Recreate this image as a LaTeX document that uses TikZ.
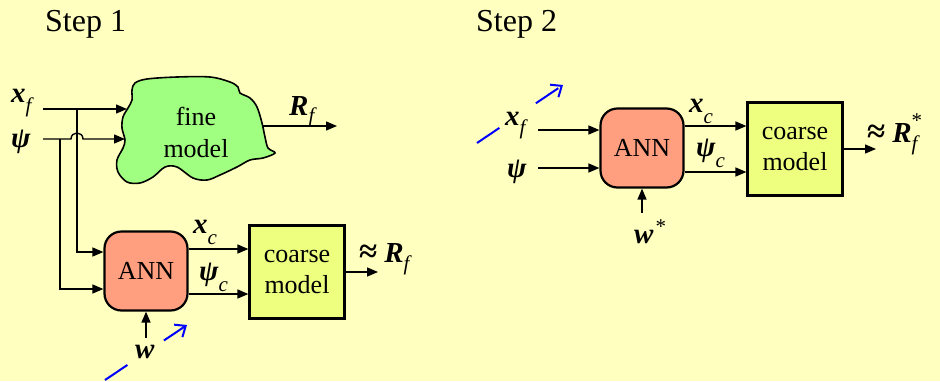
\documentclass[tikz,border=0pt]{standalone}
\usepackage{fontspec}
\setmainfont{Liberation Serif}
\usetikzlibrary{arrows.meta}
\definecolor{bgc}{HTML}{FFFFC0}
\definecolor{fineg}{HTML}{A0FF80}
\definecolor{annc}{HTML}{FF9F80}
\definecolor{coarsec}{HTML}{EEFF80}
\newcommand{\mv}[1]{{\fontsize{29}{29}\selectfont\bfseries\itshape #1}}
\newcommand{\lsub}[2][11pt]{\raisebox{-#1}{\fontsize{21}{21}\selectfont\itshape #2}}
\newcommand{\lsup}[2][10pt]{\raisebox{#1}{\fontsize{21}{21}\selectfont #2}}
\newcommand{\apx}{{\fontsize{33}{33}\selectfont\bfseries ≈}\hspace{7pt}}
\begin{document}
\begin{tikzpicture}[x=1pt,y=-1pt,
  conn/.style={line width=1.4pt,-{Triangle[length=11pt,width=9pt]}},
  annbox/.style={draw,line width=2.2pt,fill=annc,rounded corners=17pt,minimum width=83pt,minimum height=79pt,inner sep=0pt,font=\fontsize{26}{26}\selectfont},
  coarsebox/.style={draw,line width=2.2pt,fill=coarsec,minimum width=95pt,minimum height=93pt,inner sep=0pt,align=center,font=\fontsize{26}{31}\selectfont},
  lbl/.style={anchor=base west,inner sep=0pt},
  steptxt/.style={anchor=base west,inner sep=0pt,font=\fontsize{32}{32}\selectfont},
  bluearrow/.style={draw=blue,line width=2pt,dash pattern=on 27pt off 44pt,-{Straight Barb[length=9pt,width=15pt]}}
]
\fill[bgc] (0,0) rectangle (940,381);
\useasboundingbox (0,0) rectangle (940,381);

% ---------- titles
\node[steptxt] (s1) at (45,31) {Step 1};
\node[steptxt] (s2) at (476,31) {Step 2};

% ---------- Step 1
\draw[line width=1.6pt,fill=fineg] plot[smooth cycle,tension=0.55] coordinates {
 (135,83) (147,79) (177,77) (210,77) (230,82) (238,87) (240,93) (250,98)
 (257,107) (262,123) (265,137) (268,148) (275,153) (263,158) (250,160)
 (237,167) (220,175) (207,180) (193,178) (177,167) (165,167) (153,177)
 (140,183) (127,182) (118,172) (117,160) (123,148) (125,140) (122,128)
 (123,117) (128,108) (132,100) (132,90)};
\node[align=center,inner sep=0pt,font=\fontsize{26}{32}\selectfont] (fine) at (196,132) {fine\\model};

\node[annbox] (ann1) at (146,271) {ANN};
\node[coarsebox] (crs1) at (297,272) {coarse\\model};

\coordinate (xfA) at (43,109);
\coordinate (blobA) at (127,109);
\coordinate (psA) at (43,139);
\coordinate (blobB) at (125,139);
\coordinate (jA) at (77,109);
\coordinate (jB) at (60,139);
\coordinate (hopL) at (71,139);
\coordinate (hopR) at (83,139);
\coordinate (RfA) at (263,126);
\coordinate (RfB) at (337,126);
\coordinate (w1) at (146,338);
\coordinate (o1) at (378,272);
\coordinate (a1x) at ([yshift=22pt]ann1.east);
\coordinate (a1p) at ([yshift=-23pt]ann1.east);
\coordinate (bl1s) at (105,380);
\coordinate (bl1e) at (187,325);

\draw[conn] (xfA) -- (blobA);
\draw[conn] (psA) -- (hopL) .. controls (71,131) and (83,131) .. (hopR) -- (blobB);
\draw[conn] (jA) |- ([yshift=19pt]ann1.west);
\draw[conn] (jB) |- ([yshift=-18pt]ann1.west);
\draw[conn] (RfA) -- (RfB);
\draw[conn] (a1x) -- (a1x -| crs1.west);
\draw[conn] (a1p) -- (a1p -| crs1.west);
\draw[conn] (crs1.east) -- (o1);
\draw[conn] (w1) -- (ann1.south);
\draw[bluearrow] (bl1s) -- (bl1e);

\node[lbl] (lxf1) at (11,102) {\mv{x}\lsub[10pt]{f}};
\node[lbl] (lps1) at (11,147) {\mv{ψ}};
\node[lbl] (lRf1) at (289,115) {\mv{R}\lsub[7pt]{f}};
\node[lbl] (lxc1) at (193,233) {\mv{x}\lsub{c}};
\node[lbl] (lpc1) at (199,280) {\mv{ψ}\lsub{c}};
\node[lbl] (lout1) at (359,262) {\apx\mv{R}\lsub[8pt]{f}};
\node[lbl] (lw1) at (135,358) {\mv{w}};

% ---------- Step 2
\node[annbox] (ann2) at (642,148) {ANN};
\node[coarsebox] (crs2) at (795,149) {coarse\\model};

\coordinate (xf2) at (538,130);
\coordinate (ps2) at (538,168);
\coordinate (a2x) at ([yshift=22pt]ann2.east);
\coordinate (a2p) at ([yshift=-24pt]ann2.east);
\coordinate (o2) at (876,149);
\coordinate (w2) at (642,213);
\coordinate (bl2s) at (477,143);
\coordinate (bl2e) at (563,85);

\draw[conn] (xf2) -- (xf2 -| ann2.west);
\draw[conn] (ps2) -- (ps2 -| ann2.west);
\draw[conn] (a2x) -- (a2x -| crs2.west);
\draw[conn] (a2p) -- (a2p -| crs2.west);
\draw[conn] (crs2.east) -- (o2);
\draw[conn] (w2) -- (ann2.south);
\draw[bluearrow] (bl2s) -- (bl2e);

\node[lbl] (lxf2) at (505,125) {\mv{x}\lsub[9pt]{f}};
\node[lbl] (lps2) at (507,177) {\mv{ψ}};
\node[lbl] (lxc2) at (689,112) {\mv{x}\lsub{c}};
\node[lbl] (lpc2) at (696,156) {\mv{ψ}\lsub{c}};
\node[lbl] (lout2) at (867,142) {\apx\mv{R}\rlap{\lsub[8pt]{f}}\lsup[15pt]{*}};
\node[lbl] (lw2) at (634,243) {\mv{w}\hspace{2pt}\lsup[10pt]{*}};
\end{tikzpicture}
\end{document}
